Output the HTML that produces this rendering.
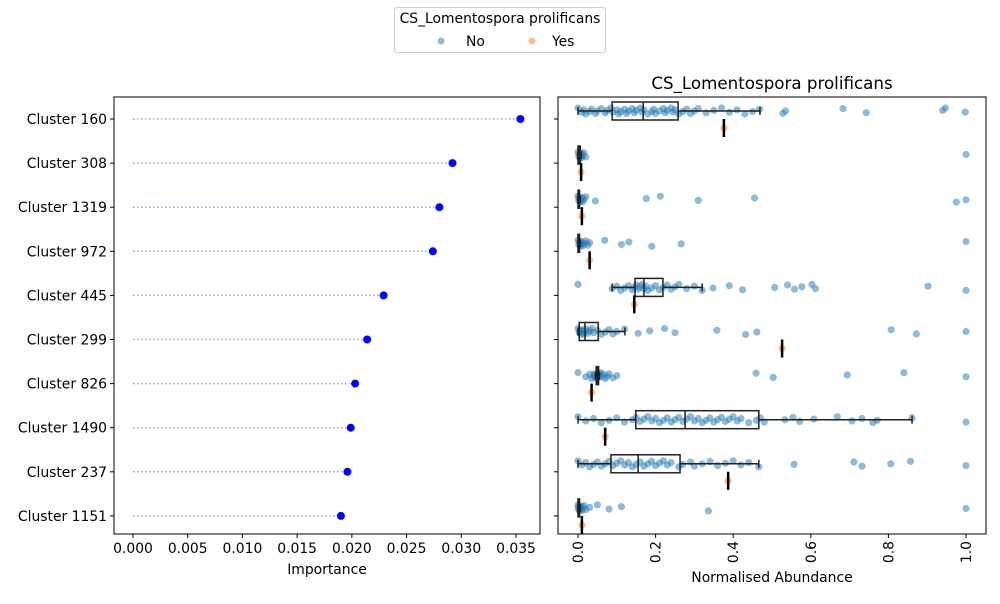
<!DOCTYPE html>
<html><head><meta charset="utf-8"><style>
body{margin:0;background:#fff;font-family:"DejaVu Sans",sans-serif}
svg text{font-family:"DejaVu Sans","Liberation Sans",sans-serif;fill:#000}
</style></head><body>
<svg id="c" width="1000" height="600" xmlns="http://www.w3.org/2000/svg"></svg>
<script>
const clusters=["Cluster 160","Cluster 308","Cluster 1319","Cluster 972","Cluster 445","Cluster 299","Cluster 826","Cluster 1490","Cluster 237","Cluster 1151"];
const importance=[0.0354,0.0292,0.0280,0.0274,0.0229,0.0214,0.0203,0.0199,0.0196,0.0190];
const impTicks=[0,0.005,0.010,0.015,0.020,0.025,0.030,0.035];
const abTicks=[0,0.2,0.4,0.6,0.8,1.0];
// box stats for "No": [whiskerLo,q1,median,q3,whiskerHi]
const boxNo=[[0,0.088,0.168,0.258,0.469],[0,0,0.003,0.006,0.008],[0,0,0.002,0.004,0.006],[0,0,0.002,0.004,0.006],[0.088,0.147,0.17,0.219,0.32],[0,0.003,0.018,0.052,0.121],[0.045,0.047,0.05,0.053,0.055],[0,0.149,0.276,0.466,0.861],[0,0.085,0.155,0.263,0.466],[0,0,0.002,0.004,0.006]];
const yesVals=[0.376,0.008,0.01,0.03,0.145,0.526,0.035,0.07,0.387,0.01];
const noVals=[
[0,0.01,0.015,0.02,0.03,0.035,0.045,0.05,0.06,0.07,0.075,0.085,0.09,0.1,0.105,0.11,0.12,0.125,0.13,0.14,0.145,0.15,0.16,0.165,0.17,0.18,0.19,0.195,0.2,0.21,0.22,0.225,0.23,0.24,0.245,0.25,0.26,0.27,0.28,0.29,0.3,0.31,0.33,0.35,0.37,0.39,0.41,0.43,0.45,0.468,0.528,0.535,0.683,0.743,0.94,0.947,0.998],
[0,0.002,0.004,0.005,0.006,0.008,0.01,0.012,0.015,0.02,1.0],
[0,0.002,0.003,0.005,0.007,0.01,0.012,0.015,0.02,0.045,0.176,0.212,0.31,0.455,0.975,1.0],
[0,0.002,0.004,0.006,0.008,0.01,0.013,0.016,0.02,0.025,0.03,0.069,0.112,0.131,0.19,0.266,1.0],
[0,0.088,0.1,0.11,0.12,0.13,0.14,0.145,0.15,0.155,0.16,0.165,0.17,0.175,0.18,0.19,0.2,0.21,0.22,0.23,0.24,0.25,0.26,0.28,0.3,0.32,0.348,0.39,0.424,0.507,0.54,0.558,0.577,0.603,0.612,0.902,1.0],
[0,0.003,0.005,0.008,0.01,0.012,0.015,0.018,0.02,0.025,0.03,0.035,0.04,0.05,0.06,0.07,0.08,0.09,0.1,0.12,0.155,0.185,0.223,0.25,0.358,0.432,0.461,0.807,0.872,1.0],
[0,0.02,0.03,0.035,0.04,0.042,0.045,0.048,0.05,0.052,0.055,0.058,0.06,0.065,0.07,0.075,0.08,0.09,0.1,0.459,0.503,0.694,0.84,1.0],
[0,0.02,0.04,0.06,0.08,0.1,0.12,0.14,0.15,0.16,0.17,0.18,0.19,0.2,0.21,0.22,0.23,0.24,0.25,0.26,0.27,0.28,0.29,0.3,0.31,0.32,0.33,0.34,0.35,0.36,0.37,0.38,0.39,0.4,0.41,0.42,0.44,0.46,0.47,0.48,0.533,0.554,0.571,0.608,0.668,0.706,0.732,0.76,0.771,0.861,1.0],
[0,0.01,0.02,0.03,0.04,0.05,0.06,0.07,0.08,0.09,0.1,0.11,0.12,0.13,0.14,0.15,0.16,0.17,0.18,0.19,0.2,0.21,0.22,0.23,0.24,0.26,0.27,0.29,0.3,0.32,0.34,0.36,0.38,0.4,0.42,0.44,0.466,0.557,0.711,0.732,0.806,0.857,1.0],
[0,0.001,0.002,0.004,0.006,0.008,0.01,0.013,0.016,0.02,0.03,0.05,0.08,0.112,0.336,1.0]];

const NS="http://www.w3.org/2000/svg",svg=document.getElementById('c');
function mk(tag,at,parent,txt){const e=document.createElementNS(NS,tag);for(const k in at)e.setAttribute(k,at[k]);if(txt!==undefined)e.textContent=txt;(parent||svg).appendChild(e);return e;}
const L={x0:114,x1:540,y0:97,y1:534},R={x0:558,x1:986,y0:97,y1:534};
const xImp=v=>133+v*(516-133)/0.035;
const xAb=v=>578+v*388;
const yRow=i=>119+i*44.1;
const FS=13.9;

// legend
let lg=mk('g',{});
mk('rect',{x:394.5,y:7.5,width:211,height:45,rx:3,fill:'#fff',stroke:'#ccc'},lg);
mk('text',{x:500,y:23,'text-anchor':'middle','font-size':FS},lg,'CS_Lomentospora prolificans');
let e1=mk('g',{},lg);
mk('circle',{cx:441,cy:41,r:3.5,fill:'#1f77b4','fill-opacity':0.5},e1);mk('text',{x:466,y:46,'font-size':FS},e1,'No');
let e2=mk('g',{},lg);
mk('circle',{cx:532,cy:41,r:3.5,fill:'#ff7f0e','fill-opacity':0.5},e2);mk('text',{x:552,y:46,'font-size':FS},e2,'Yes');

// left panel
let lp=mk('g',{});
clusters.forEach((c,i)=>{const y=yRow(i);
 let ln=mk('line',{x1:xImp(0),x2:xImp(importance[i]),y1:y,y2:y,stroke:'#1f77b4','stroke-opacity':0.6,'stroke-dasharray':'1.5,2.5','stroke-width':1.5},lp);
 
 let pt=mk('circle',{cx:xImp(importance[i]),cy:y,r:4,fill:'#0000ff'},lp);
 
 mk('line',{x1:L.x0,x2:L.x0-4,y1:y,y2:y,stroke:'#000'},lp);
 let t=mk('text',{x:L.x0-7,y:y+5,'text-anchor':'end','font-size':FS},lp,c);
 
});
impTicks.forEach(v=>{const x=xImp(v);mk('line',{x1:x,x2:x,y1:L.y1,y2:L.y1+4,stroke:'#000'},lp);
 let t=mk('text',{x:x,y:553,'text-anchor':'middle','font-size':FS},lp,v.toFixed(3));});
mk('rect',{x:L.x0,y:L.y0,width:L.x1-L.x0,height:L.y1-L.y0,fill:'none',stroke:'#000'},lp);
let xt=mk('text',{x:327,y:574,'text-anchor':'middle','font-size':FS},lp,'Importance');

// right panel
let rp=mk('g',{});
let tt=mk('text',{x:772,y:89,'text-anchor':'middle','font-size':16.7},rp,'CS_Lomentospora prolificans');
clusters.forEach((c,i)=>{const y=yRow(i),yn=y-8,yy=y+9;
 noVals[i].forEach((v,j)=>{const jy=((j*7)%11-5)*0.6;
  let p=mk('circle',{cx:xAb(v),cy:yn+jy,r:3.6,fill:'#1f77b4','fill-opacity':0.5},rp);
  });
 let py=mk('circle',{cx:xAb(yesVals[i]),cy:yy,r:3.6,fill:'#ff7f0e','fill-opacity':0.5},rp);
 
 const b=boxNo[i];let bg=mk('g',{},rp);
 mk('line',{x1:xAb(b[0]),x2:xAb(b[1]),y1:yn,y2:yn,stroke:'#222','stroke-width':1.5},bg);
 mk('line',{x1:xAb(b[3]),x2:xAb(b[4]),y1:yn,y2:yn,stroke:'#222','stroke-width':1.5},bg);
 mk('line',{x1:xAb(b[0]),x2:xAb(b[0]),y1:yn-4,y2:yn+4,stroke:'#222','stroke-width':1.5},bg);
 mk('line',{x1:xAb(b[4]),x2:xAb(b[4]),y1:yn-4,y2:yn+4,stroke:'#222','stroke-width':1.5},bg);
 mk('rect',{x:xAb(b[1]),y:yn-9,width:Math.max(xAb(b[3])-xAb(b[1]),0.5),height:18,fill:'none',stroke:'#222','stroke-width':1.5},bg);
 mk('line',{x1:xAb(b[2]),x2:xAb(b[2]),y1:yn-9,y2:yn+9,stroke:'#222','stroke-width':1.5},bg);
 let yb=mk('line',{x1:xAb(yesVals[i]),x2:xAb(yesVals[i]),y1:yy-9,y2:yy+9,stroke:'#000','stroke-width':2.5},rp);
 
 mk('line',{x1:R.x0,x2:R.x0-4,y1:y,y2:y,stroke:'#000'},rp);
});
abTicks.forEach(v=>{const x=xAb(v);mk('line',{x1:x,x2:x,y1:R.y1,y2:R.y1+4,stroke:'#000'},rp);
 let t=mk('text',{x:x+5,y:541,'text-anchor':'end','font-size':FS,transform:`rotate(-90 ${x+5} 541)`},rp,v.toFixed(1));
 });
mk('rect',{x:R.x0,y:R.y0,width:R.x1-R.x0,height:R.y1-R.y0,fill:'none',stroke:'#000'},rp);
let xt2=mk('text',{x:772,y:582,'text-anchor':'middle','font-size':FS},rp,'Normalised Abundance');
</script>
</body></html>
